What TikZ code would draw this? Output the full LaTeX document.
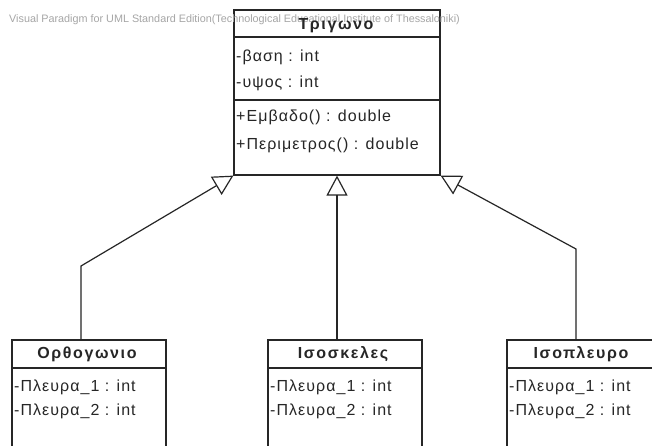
\documentclass[tikz,border=0pt]{standalone}
\usepackage{fontspec}
\setmainfont{Liberation Sans}
\newfontfamily\vpattr[LetterSpace=6.5]{Liberation Sans}
\newfontfamily\vptitle[LetterSpace=10]{Liberation Sans}
\usetikzlibrary{arrows.meta}
\begin{document}
\begin{tikzpicture}[x=1pt,y=-1pt,
  cls/.style={draw=black!85, line width=1.2pt, fill=white, minimum width=154pt, minimum height=120pt, inner sep=0pt},
  ttl/.style={font=\vptitle\fontsize{16}{17}\selectfont\bfseries, text=black!85, inner sep=0pt, anchor=center},
  attr/.style={font=\vpattr\fontsize{16}{17}\selectfont, text=black!85, inner sep=0pt, anchor=west},
  inh/.style={draw=black!85, line width=1.2pt, -{Triangle[open, length=20pt, width=21pt, line width=1.2pt]}},
  sepline/.style={draw=black!85, line width=1.2pt}]
\useasboundingbox (0,0) rectangle (652,446);
\clip (0,0) rectangle (652,446);
\fill[white] (0,0) rectangle (652,446);

% superclass
\node[cls, minimum width=206pt, minimum height=165pt] (tri) at (337,92.5) {};
\draw[sepline] (tri.west |- 0,37) -- (tri.east |- 0,37);
\draw[sepline] (tri.west |- 0,100) -- (tri.east |- 0,100);
\node[attr] (a1) at (236,57) {-βαση : int};
\node[attr] (a2) at (236,83) {-υψος : int};
\node[attr] (m1) at (236,117) {+Εμβαδο() : double};
\node[attr] (m2) at (236,145) {+Περιμετρος() : double};

% watermark
\node[font=\fontsize{10.8}{12}\selectfont, text=black!35, anchor=west, inner sep=0pt] (wm) at (9,20) {Visual Paradigm for UML Standard Edition(Technological Educational Institute of Thessaloniki)};
\node[ttl] (t0) at (336,26) {Τριγωνο};

% subclasses
\node[cls] (orth) at (89,400) {};
\draw[sepline] (orth.west |- 0,368) -- (orth.east |- 0,368);
\node[ttl] (t1) at (87,354) {Ορθογωνιο};
\node[attr] (o1) at (14,387) {-Πλευρα\_1 : int};
\node[attr] (o2) at (14,411) {-Πλευρα\_2 : int};

\node[cls] (isosk) at (345,400) {};
\draw[sepline] (isosk.west |- 0,368) -- (isosk.east |- 0,368);
\node[ttl] (t2) at (343,354) {Ισοσκελες};
\node[attr] (s1) at (270,387) {-Πλευρα\_1 : int};
\node[attr] (s2) at (270,411) {-Πλευρα\_2 : int};

\node[cls] (isop) at (584,400) {};
\draw[sepline] (isop.west |- 0,368) -- (isop.east |- 0,368);
\node[ttl] (t3) at (581,354) {Ισοπλευρο};
\node[attr] (p1) at (509,387) {-Πλευρα\_1 : int};
\node[attr] (p2) at (509,411) {-Πλευρα\_2 : int};

% generalisations
\coordinate (k1) at (81,266);
\coordinate (k3) at (576,249);
\draw[inh] ([xshift=-8pt]orth.north) -- (k1) -- (tri.south west);
\draw[inh] ([xshift=-8pt]isosk.north) -- (tri.south);
\draw[inh] ([xshift=-8pt]isop.north) -- (k3) -- (tri.south east);
\end{tikzpicture}
\end{document}
